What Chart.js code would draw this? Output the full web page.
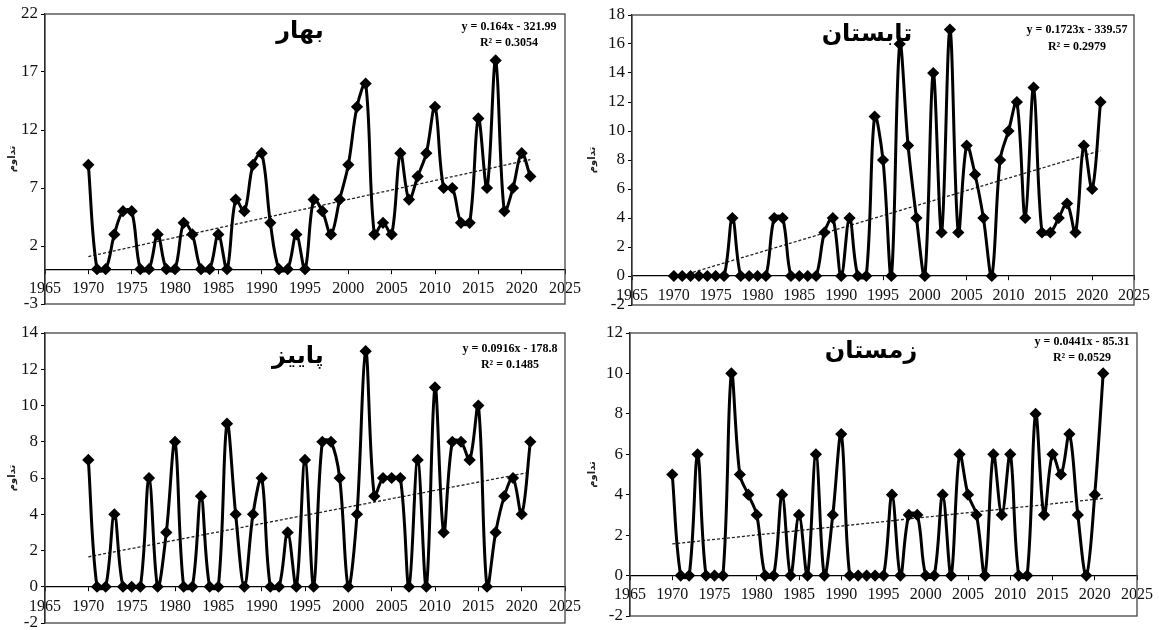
<!DOCTYPE html>
<html>
<head>
<meta charset="utf-8">
<script src="https://cdn.jsdelivr.net/npm/chart.js@4.4.0/dist/chart.umd.min.js"></script>
<style>
  body { margin: 0; background: #fff; overflow: hidden; }
  .panel { position: absolute; }
</style>
</head>
<body>
<div class="panel" style="left:0;top:0;width:587px;height:318px"><canvas id="c1"></canvas></div>
<div class="panel" style="left:580px;top:0;width:579px;height:319px"><canvas id="c2"></canvas></div>
<div class="panel" style="left:0;top:318px;width:587px;height:319px"><canvas id="c3"></canvas></div>
<div class="panel" style="left:580px;top:318px;width:579px;height:312px"><canvas id="c4"></canvas></div>
<script>
const years = [1970, 1971, 1972, 1973, 1974, 1975, 1976, 1977, 1978, 1979,
  1980, 1981, 1982, 1983, 1984, 1985, 1986, 1987, 1988, 1989,
  1990, 1991, 1992, 1993, 1994, 1995, 1996, 1997, 1998, 1999,
  2000, 2001, 2002, 2003, 2004, 2005, 2006, 2007, 2008, 2009,
  2010, 2011, 2012, 2013, 2014, 2015, 2016, 2017, 2018, 2019,
  2020, 2021];

const spring = [9, 0, 0, 3, 5, 5, 0, 0, 3, 0,
  0, 4, 3, 0, 0, 3, 0, 6, 5, 9,
  10, 4, 0, 0, 3, 0, 6, 5, 3, 6,
  9, 14, 16, 3, 4, 3, 10, 6, 8, 10,
  14, 7, 7, 4, 4, 13, 7, 18, 5, 7,
  10, 8];

const summer = [0, 0, 0, 0, 0, 0, 0, 4, 0, 0,
  0, 0, 4, 4, 0, 0, 0, 0, 3, 4,
  0, 4, 0, 0, 11, 8, 0, 16, 9, 4,
  0, 14, 3, 17, 3, 9, 7, 4, 0, 8,
  10, 12, 4, 13, 3, 3, 4, 5, 3, 9,
  6, 12];

const autumn = [7, 0, 0, 4, 0, 0, 0, 6, 0, 3,
  8, 0, 0, 5, 0, 0, 9, 4, 0, 4,
  6, 0, 0, 3, 0, 7, 0, 8, 8, 6,
  0, 4, 13, 5, 6, 6, 6, 0, 7, 0,
  11, 3, 8, 8, 7, 10, 0, 3, 5, 6,
  4, 8];

const winter = [5, 0, 0, 6, 0, 0, 0, 10, 5, 4,
  3, 0, 0, 4, 0, 3, 0, 6, 0, 3,
  7, 0, 0, 0, 0, 0, 4, 0, 3, 3,
  0, 0, 4, 0, 6, 4, 3, 0, 6, 3,
  6, 0, 0, 8, 3, 6, 5, 7, 3, 0,
  4, 10];

const seasonNames = ["بهار", "تابستان", "پاییز", "زمستان"];
const trendSlopes = [0.164, 0.1723, 0.0916, 0.0441];
const trendIntercepts = [-321.99, -339.57, -178.8, -85.31];
const rSquared = ["0.3054", "0.2979", "0.1485", "0.0529"];
const yMins = [-3, -2, -2, -2];
const yMaxs = [22, 18, 14, 12];
const ySteps = [5, 2, 2, 2];
const yAxisTitle = "تداوم";

const series = [spring, summer, autumn, winter];

// panel placement inside each canvas
const panels = [
  { id: "c1", pad: { top: 14, right: 12, bottom: 14 }, yw: 45, title: [300, 32], eq: [509, 27, 43] },
  { id: "c2", pad: { top: 15, right: 25, bottom: 14 }, yw: 52, title: [287, 35], eq: [497, 30, 47] },
  { id: "c3", pad: { top: 15, right: 12, bottom: 14 }, yw: 45, title: [298, 39], eq: [510, 31, 47] },
  { id: "c4", pad: { top: 15, right: 20, bottom: 14 }, yw: 50, title: [291, 34], eq: [502, 24, 40] },
];

const framePlugin = {
  id: "frame",
  afterDraw(chart, args, opts) {
    const { ctx, chartArea: a } = chart;
    ctx.save();
    ctx.strokeStyle = "#444";
    ctx.lineWidth = 1.3;
    ctx.strokeRect(a.left, a.top, a.right - a.left, a.bottom - a.top);

    ctx.fillStyle = "#000";
    ctx.textAlign = "center";
    ctx.textBaseline = "middle";
    ctx.font = "bold 24px 'DejaVu Sans'";
    ctx.fillText(opts.title, opts.titlePos[0], opts.titlePos[1]);

    ctx.font = "bold 12px 'Liberation Serif'";
    ctx.fillText(opts.eq, opts.eqPos[0], opts.eqPos[1]);
    ctx.fillText(opts.r2, opts.eqPos[0], opts.eqPos[2]);
    ctx.restore();
  },
};

function createChart(i) {
  const p = panels[i];
  const vals = series[i];
  const s = trendSlopes[i];
  const b = trendIntercepts[i];
  const first = years[0];
  const last = years[years.length - 1];

  return new Chart(document.getElementById(p.id), {
    type: "line",
    data: {
      datasets: [
        {
          data: years.map((x, k) => ({ x: x, y: vals[k] })),
          borderColor: "#000",
          backgroundColor: "#000",
          borderWidth: 3,
          pointStyle: "rectRot",
          pointRadius: 4,
          pointBackgroundColor: "#000",
          pointBorderColor: "#000",
          tension: 0.35,
          fill: false,
        },
        {
          data: [
            { x: first, y: s * first + b },
            { x: last, y: s * last + b },
          ],
          borderColor: "#222",
          borderWidth: 1.3,
          borderDash: [3, 2],
          pointRadius: 0,
          fill: false,
        },
      ],
    },
    options: {
      responsive: true,
      maintainAspectRatio: false,
      animation: false,
      layout: { padding: { top: p.pad.top, right: p.pad.right, bottom: p.pad.bottom, left: 0 } },
      scales: {
        x: {
          type: "linear",
          position: { y: 0 },
          min: 1965,
          max: 2025,
          ticks: {
            stepSize: 5,
            callback: (v) => String(v),
            font: { family: "Liberation Serif", size: 16 },
            color: "#111",
            padding: 6,
            maxRotation: 0,
          },
          grid: { drawOnChartArea: false, tickLength: 4, color: "#000" },
          border: { color: "#000", width: 1.2 },
        },
        y: {
          min: yMins[i],
          max: yMaxs[i],
          ticks: {
            stepSize: ySteps[i],
            font: { family: "Liberation Serif", size: 17 },
            color: "#111",
            padding: 3,
          },
          grid: { drawOnChartArea: false, tickLength: 4, color: "#000" },
          border: { color: "#000", width: 1.2 },
          title: {
            display: true,
            text: yAxisTitle,
            font: { family: "DejaVu Sans", size: 10, weight: "bold" },
            color: "#222",
            padding: { top: 6, bottom: 0 },
          },
          afterFit(scale) {
            scale.width = p.yw;
          },
        },
      },
      plugins: {
        legend: { display: false },
        tooltip: { enabled: false },
        frame: {
          title: seasonNames[i],
          titlePos: p.title,
          eq: "y = " + s + "x - " + Math.abs(b),
          r2: "R² = " + rSquared[i],
          eqPos: p.eq,
        },
      },
    },
    plugins: [framePlugin],
  });
}

for (let i = 0; i < 4; i++) createChart(i);
</script>
</body>
</html>
